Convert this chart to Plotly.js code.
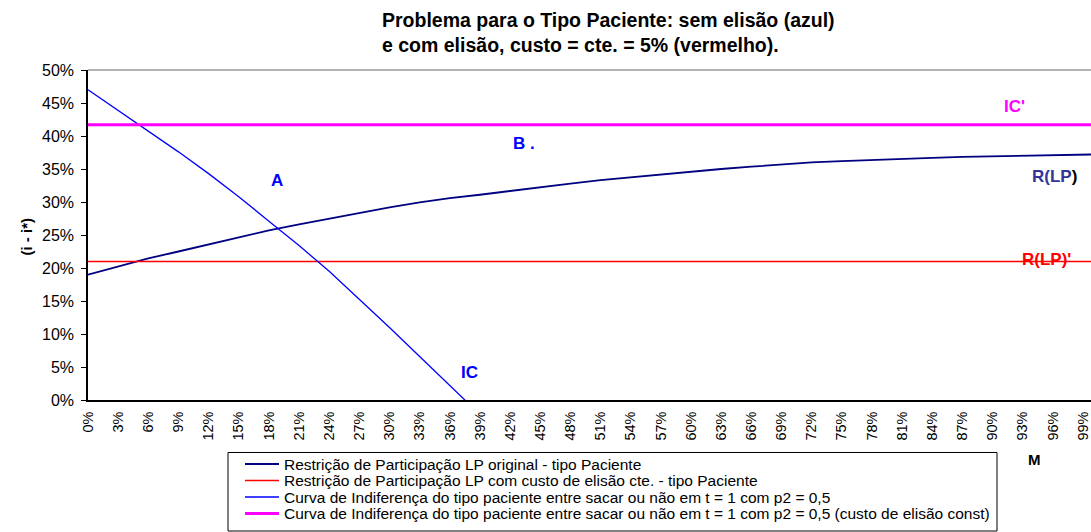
<!DOCTYPE html>
<html>
<head>
<meta charset="utf-8">
<script src="https://cdn.plot.ly/plotly-3.0.1.min.js"></script>
<style>
  body { margin: 0; background: #fff; }
  #myPlot { width: 1091px; height: 532px; }
</style>
</head>
<body>
<div id="myPlot"></div>
<script>
// M (%) sample points
var mRLP = [0, 3, 6, 9, 12, 15, 18, 21, 24, 27, 30, 33, 36, 39, 42, 45, 48, 51, 54, 57,
            60, 63, 66, 69, 72, 75, 78, 81, 84, 87, 90, 93, 96, 99, 100];
var rlp = [19.0, 20.25, 21.45, 22.5, 23.55, 24.6, 25.7, 26.6, 27.5, 28.35, 29.2, 29.95, 30.6,
           31.1, 31.7, 32.3, 32.8, 33.3, 33.75, 34.2, 34.6, 35.0, 35.35, 35.7, 36.0, 36.2,
           36.4, 36.55, 36.7, 36.85, 36.95, 37.05, 37.15, 37.2, 37.2];

var mFlat = [0, 100];
var rlpConst = [21.0, 21.0];
var icConst = [41.7, 41.7];

var mIC = [0, 3, 6, 9, 12, 15, 18, 21, 24, 27, 30, 33, 36, 39];
var ic = [47.0, 43.9, 40.8, 37.6, 34.3, 30.8, 27.1, 23.4, 19.5, 15.3, 11.0, 6.6, 2.2, -2.2];

var yTicks = [0, 5, 10, 15, 20, 25, 30, 35, 40, 45, 50];
var xTicks = [];
for (var t = 0; t <= 99; t += 3) xTicks.push(t);

var names = [
  'Restrição de Participação LP original - tipo Paciente',
  'Restrição de Participação LP com custo de elisão cte. - tipo Paciente',
  'Curva de Indiferença do tipo paciente entre sacar ou não em t = 1 com p2 = 0,5',
  'Curva de Indiferença do tipo paciente entre sacar ou não em t = 1 com p2 = 0,5 (custo de elisão const)'
];
var colors = ['#000080', '#ff0000', '#0000ff', '#ff00ff'];
var widths = [1.8, 1.5, 1.3, 3];

var data = [
  {x: mRLP, y: rlp},
  {x: mFlat, y: rlpConst},
  {x: mIC, y: ic},
  {x: mFlat, y: icConst}
].map(function (d, i) {
  d.mode = 'lines';
  d.name = names[i];
  d.line = {color: colors[i], width: widths[i]};
  return d;
});

// pixel -> paper helpers (plot area is 88..1091 x 70..400)
function px(v) { return (v - 88) / 1003; }
function py(v) { return (400 - v) / 330; }

var shapes = [
  {type: 'line', xref: 'paper', yref: 'paper', x0: 0, x1: 1, y0: 1, y1: 1,
   line: {color: '#999', width: 1.5}},
  {type: 'rect', xref: 'paper', yref: 'paper',
   x0: px(228), x1: px(997), y0: py(452.5), y1: py(531),
   line: {color: '#000', width: 1}}
];

var font = 'Liberation Sans, Arial, sans-serif';
var annotations = [
  {xref: 'paper', yref: 'paper', x: px(380), y: py(20), xanchor: 'left', yanchor: 'middle',
   showarrow: false, text: '<b>Problema para o Tipo Paciente: sem elisão (azul)</b>', font: {size: 19.5}},
  {xref: 'paper', yref: 'paper', x: px(380), y: py(45), xanchor: 'left', yanchor: 'middle',
   showarrow: false, text: '<b>e com elisão, custo = cte. = 5% (vermelho).</b>', font: {size: 19.5}},
  {xref: 'paper', yref: 'paper', x: px(15), y: py(237), textangle: -90, showarrow: false,
   text: '<b>(i - i*)</b>', font: {size: 15}},
  {x: 92.2, y: 44.4, text: "<b>IC'</b>", showarrow: false, font: {family: font, size: 17, color: '#ff00ff'}},
  {x: 43.4, y: 38.9, text: '<b>B .</b>', showarrow: false, font: {family: font, size: 17, color: '#0000ff'}},
  {x: 18.8, y: 33.3, text: '<b>A</b>', showarrow: false, font: {family: font, size: 17, color: '#0000ff'}},
  {x: 38.0, y: 4.1, text: '<b>IC</b>', showarrow: false, font: {family: font, size: 17, color: '#0000ff'}},
  {x: 96.2, y: 33.8, text: '<b>R(LP<span style="color:#000">)</span></b>', showarrow: false,
   font: {family: font, size: 17, color: '#333399'}},
  {x: 95.4, y: 21.3, text: "<b>R(LP)'</b>", showarrow: false, font: {family: font, size: 17, color: '#ff0000'}},
  {xref: 'paper', yref: 'paper', x: px(1043), y: py(470), text: '<b>M</b>', showarrow: false, font: {size: 15}}
];

// hand-made legend box (Excel style, tighter than Plotly's own legend)
var rowY = [464, 480.5, 497, 513.5];
names.forEach(function (n, i) {
  shapes.push({type: 'line', xref: 'paper', yref: 'paper',
    x0: px(245), x1: px(279), y0: py(rowY[i]), y1: py(rowY[i]),
    line: {color: colors[i], width: widths[i]}});
  annotations.push({xref: 'paper', yref: 'paper', x: px(282), y: py(rowY[i]),
    xanchor: 'left', yanchor: 'middle', showarrow: false, text: n, font: {size: 15.5}});
});

var layout = {
  width: 1091, height: 532,
  margin: {l: 88, r: 0, t: 70, b: 132},
  paper_bgcolor: '#fff', plot_bgcolor: '#fff',
  font: {family: font, color: '#000', size: 13},
  showlegend: false,
  xaxis: {
    range: [0, 99.8], showgrid: false, zeroline: false,
    tickmode: 'array', tickvals: xTicks,
    ticktext: xTicks.map(function (v) { return v + '%'; }), tickangle: -90,
    showline: true, linecolor: '#000', linewidth: 1.5, ticks: '',
    tickfont: {size: 14.5}, ticklabelstandoff: 4
  },
  yaxis: {
    range: [0, 50], showgrid: false, zeroline: false,
    tickmode: 'array', tickvals: yTicks,
    ticktext: yTicks.map(function (v) { return v + '%'; }),
    showline: true, linecolor: '#000', linewidth: 1.5,
    ticks: 'outside', ticklen: 5, tickcolor: '#000', tickfont: {size: 16},
    ticklabelstandoff: 4
  },
  shapes: shapes,
  annotations: annotations
};

Plotly.newPlot('myPlot', data, layout, {displayModeBar: false});
</script>
</body>
</html>
